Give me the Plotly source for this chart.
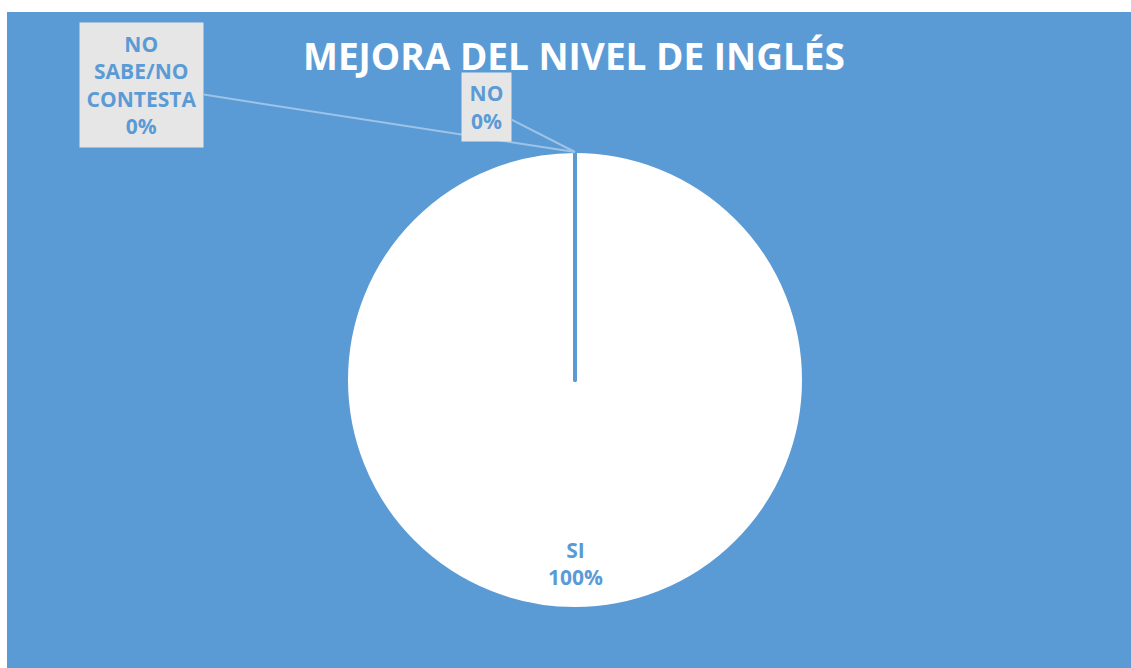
import plotly.graph_objects as go

# datos de la encuesta
categorias = ["SI", "NO", "NO SABE/NO CONTESTA"]
valores = [100, 0, 0]
etiquetas = ["SI", "NO", "NO<br>SABE/NO<br>CONTESTA"]
titulo = "MEJORA DEL NIVEL DE INGLÉS"

AZUL = "#5B9BD5"
GRIS = "#E7E6E6"
LINEA = "#9DC3E6"
FUENTE = "Open Sans"

W, H = 1131, 668
ML, MT = 7, 12
pw, ph = W - ML, H - MT

total = sum(valores)
pct = [f"{round(v / total * 100)}%" for v in valores]

# dominio del pastel en px de la página
cx, cy, r = 575, 380, 229
dom_x = [(cx - r - ML) / pw, (cx + r - ML) / pw]
dom_y = [1 - (cy + r - MT) / ph, 1 - (cy - r - MT) / ph]

fig = go.Figure()
fig.add_trace(go.Pie(
    labels=categorias,
    values=valores,
    sort=True,
    direction="clockwise",
    rotation=0,
    marker=dict(colors=["white", AZUL, AZUL], line=dict(color=AZUL, width=4)),
    textinfo="none",
    hoverinfo="label+percent",
    showlegend=False,
    domain=dict(x=dom_x, y=dom_y),
))

# punto superior del pastel (de donde salen las guías)
top_x = (cx - ML) / pw
top_y = 1 - (cy - r + 1 - MT) / ph

fuente_et = dict(family=FUENTE, size=21, color=AZUL, weight="bold")

# NO SABE/NO CONTESTA
fig.add_annotation(
    x=top_x, y=top_y, xref="paper", yref="paper",
    text=f"{etiquetas[2]}<br>{pct[2]}",
    showarrow=True, arrowhead=0, arrowwidth=2, arrowcolor=LINEA,
    ax=141.5 - cx, ay=85 - (cy - r + 1),
    bgcolor=GRIS, width=123, height=124, borderpad=0,
    font=fuente_et,
)
# NO
fig.add_annotation(
    x=top_x, y=top_y, xref="paper", yref="paper",
    text=f"{etiquetas[1]}<br>{pct[1]}",
    showarrow=True, arrowhead=0, arrowwidth=2, arrowcolor=LINEA,
    ax=486.5 - cx, ay=107 - (cy - r + 1),
    bgcolor=GRIS, width=49, height=68, borderpad=0,
    font=fuente_et,
)
# SI
fig.add_annotation(
    x=(cx - ML) / pw, y=1 - (563 - MT) / ph, xref="paper", yref="paper",
    xanchor="center", yanchor="middle",
    text=f"{etiquetas[0]}<br>{pct[0]}",
    showarrow=False,
    font=fuente_et,
)

# fondo azul del área del gráfico
fig.add_shape(type="rect", xref="paper", yref="paper", x0=0, x1=1.01, y0=-0.01, y1=1,
              fillcolor=AZUL, line_width=0, layer="below")

fig.update_layout(
    width=W, height=H,
    margin=dict(l=ML, r=0, t=MT, b=0),
    paper_bgcolor="white",
    title=dict(
        text=titulo,
        x=574 / W, xref="container", xanchor="center",
        y=1 - 57 / H, yref="container", yanchor="middle",
        font=dict(family=FUENTE, size=37, color="white", weight="bold"),
    ),
)

# sin margen del body para que la figura ocupe la ventana
fig.write_html(
    "out.html",
    config={"displayModeBar": False},
    post_script="document.body.style.margin='0';",
)
